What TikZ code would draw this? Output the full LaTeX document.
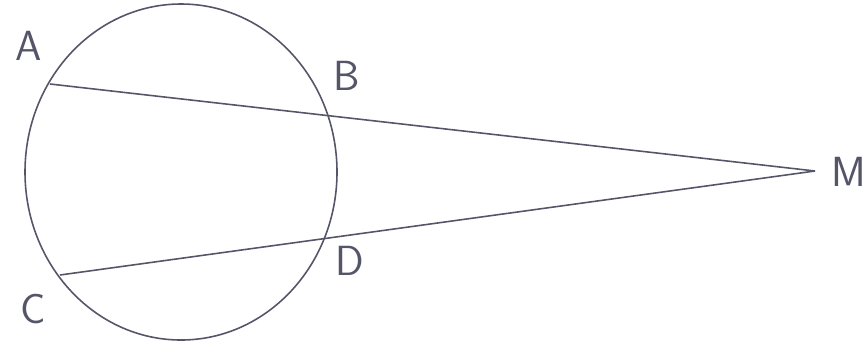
\documentclass[tikz,border=0pt]{standalone}
\usepackage{tikz}
\usetikzlibrary{positioning}
\definecolor{pencil}{RGB}{85, 85, 105}
\tikzset{
    ptlabel/.style={text=pencil, font=\fontsize{24}{28}\selectfont\sffamily, inner sep=0pt},
    stroke/.style={draw=pencil, line width=0.9pt}
}

\begin{document}
\begin{tikzpicture}[x=0.02cm, y=-0.02cm]
    \useasboundingbox (0,0) rectangle (864,342);

    % Circle
    \draw[stroke] (181,172) ellipse (156 and 168);

    % Points on the circle and the outer point
    \coordinate (A) at (50,84);
    \coordinate (B) at (328,115);
    \coordinate (C) at (60,275);
    \coordinate (D) at (325,237);
    \coordinate (M) at (815,171);

    % Secants
    \draw[stroke] (A) -- (M);
    \draw[stroke] (C) -- (M);

    % Labels
    \node[ptlabel] (labA) at (29,46) {A};
    \node[ptlabel] (labB) at (347,76) {B};
    \node[ptlabel] (labC) at (33,309) {C};
    \node[ptlabel] (labD) at (350,261) {D};
    \node[ptlabel, anchor=west] (labM) at (831,172) {M};
\end{tikzpicture}
\end{document}
